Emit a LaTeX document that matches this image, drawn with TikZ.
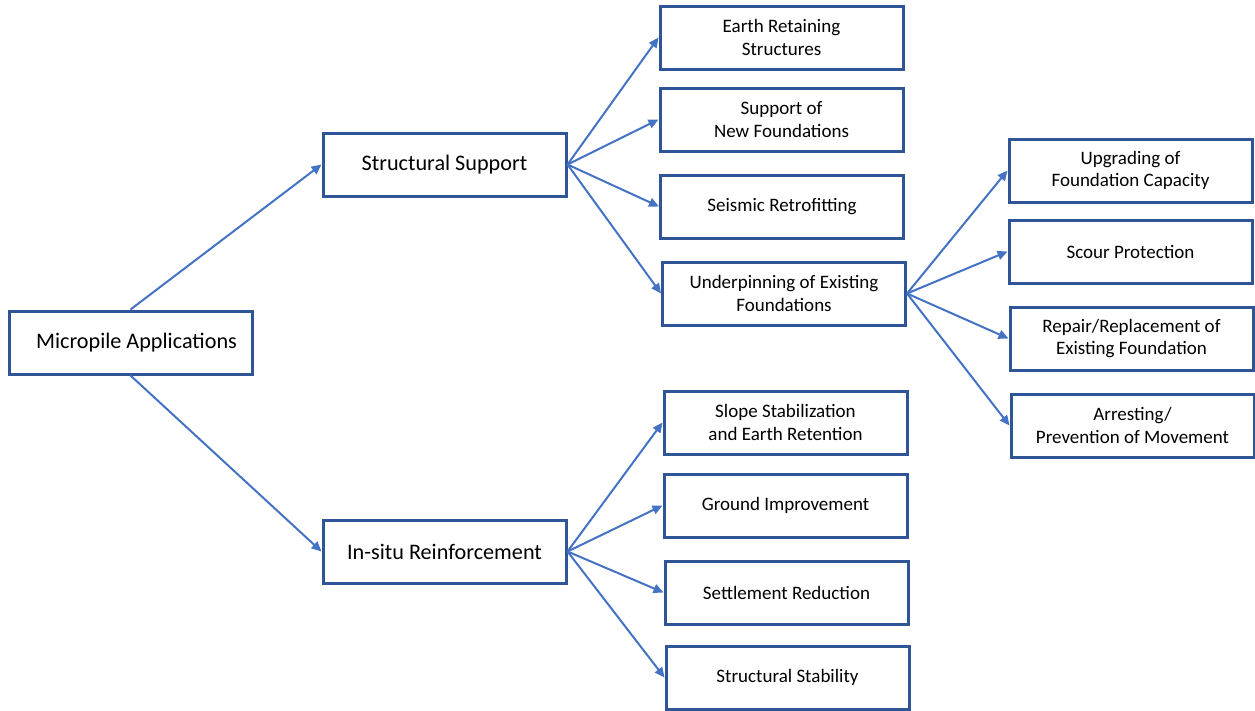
\documentclass[tikz,border=0pt]{standalone}
\usepackage{fontspec}
\setmainfont{Carlito}
\usetikzlibrary{arrows.meta}
\definecolor{boxblue}{HTML}{2F5597}
\definecolor{arrowblue}{HTML}{4472C4}
\begin{document}
\begin{tikzpicture}[x=1pt,y=-1pt,
  box/.style={draw=boxblue,line width=3pt,fill=white,minimum width=243pt,minimum height=63pt,align=center,inner sep=0pt,font=\fontsize{19}{22.5}\selectfont},
  bigbox/.style={box,font=\fontsize{22.2}{26}\selectfont},
  conn/.style={draw=arrowblue,line width=2pt,-{Triangle[length=10pt,width=9pt]}}]
\useasboundingbox (0,0) rectangle (1255,710);
\node[bigbox] (root) at (130.5,342.5) {\hspace*{12pt}Micropile Applications};
\node[bigbox] (ss) at (444.5,164.5) {Structural Support};
\node[bigbox] (ir) at (444.5,551.5) {In-situ Reinforcement};
\node[box] (er) at (781.5,37.5) {Earth Retaining\\Structures};
\node[box] (sn) at (781.5,119.5) {Support of\\New Foundations};
\node[box] (sr) at (782,206.5) {Seismic Retrofitting};
\node[box] (ue) at (784,293.5) {Underpinning of Existing\\Foundations};
\node[box] (sl) at (785.5,422.5) {Slope Stabilization\\and Earth Retention};
\node[box] (gi) at (785.5,505.5) {Ground Improvement};
\node[box] (sr2) at (786.5,592.5) {Settlement Reduction};
\node[box] (st) at (787.5,677.5) {Structural Stability};
\node[box] (uf) at (1130.5,170.5) {Upgrading of\\Foundation Capacity};
\node[box] (sp) at (1130.5,251.5) {Scour Protection};
\node[box] (rr) at (1131.5,338.5) {Repair/Replacement of\\Existing Foundation};
\node[box] (ap) at (1132.5,425.5) {Arresting/\\Prevention of Movement};
\draw[conn] (root.north) -- (ss.west);
\draw[conn] (root.south) -- (ir.west);
\foreach \t in {er,sn,sr,ue} \draw[conn] (ss.east) -- (\t.west);
\foreach \t in {sl,gi,sr2,st} \draw[conn] (ir.east) -- (\t.west);
\foreach \t in {uf,sp,rr,ap} \draw[conn] (ue.east) -- (\t.west);
\end{tikzpicture}
\end{document}
